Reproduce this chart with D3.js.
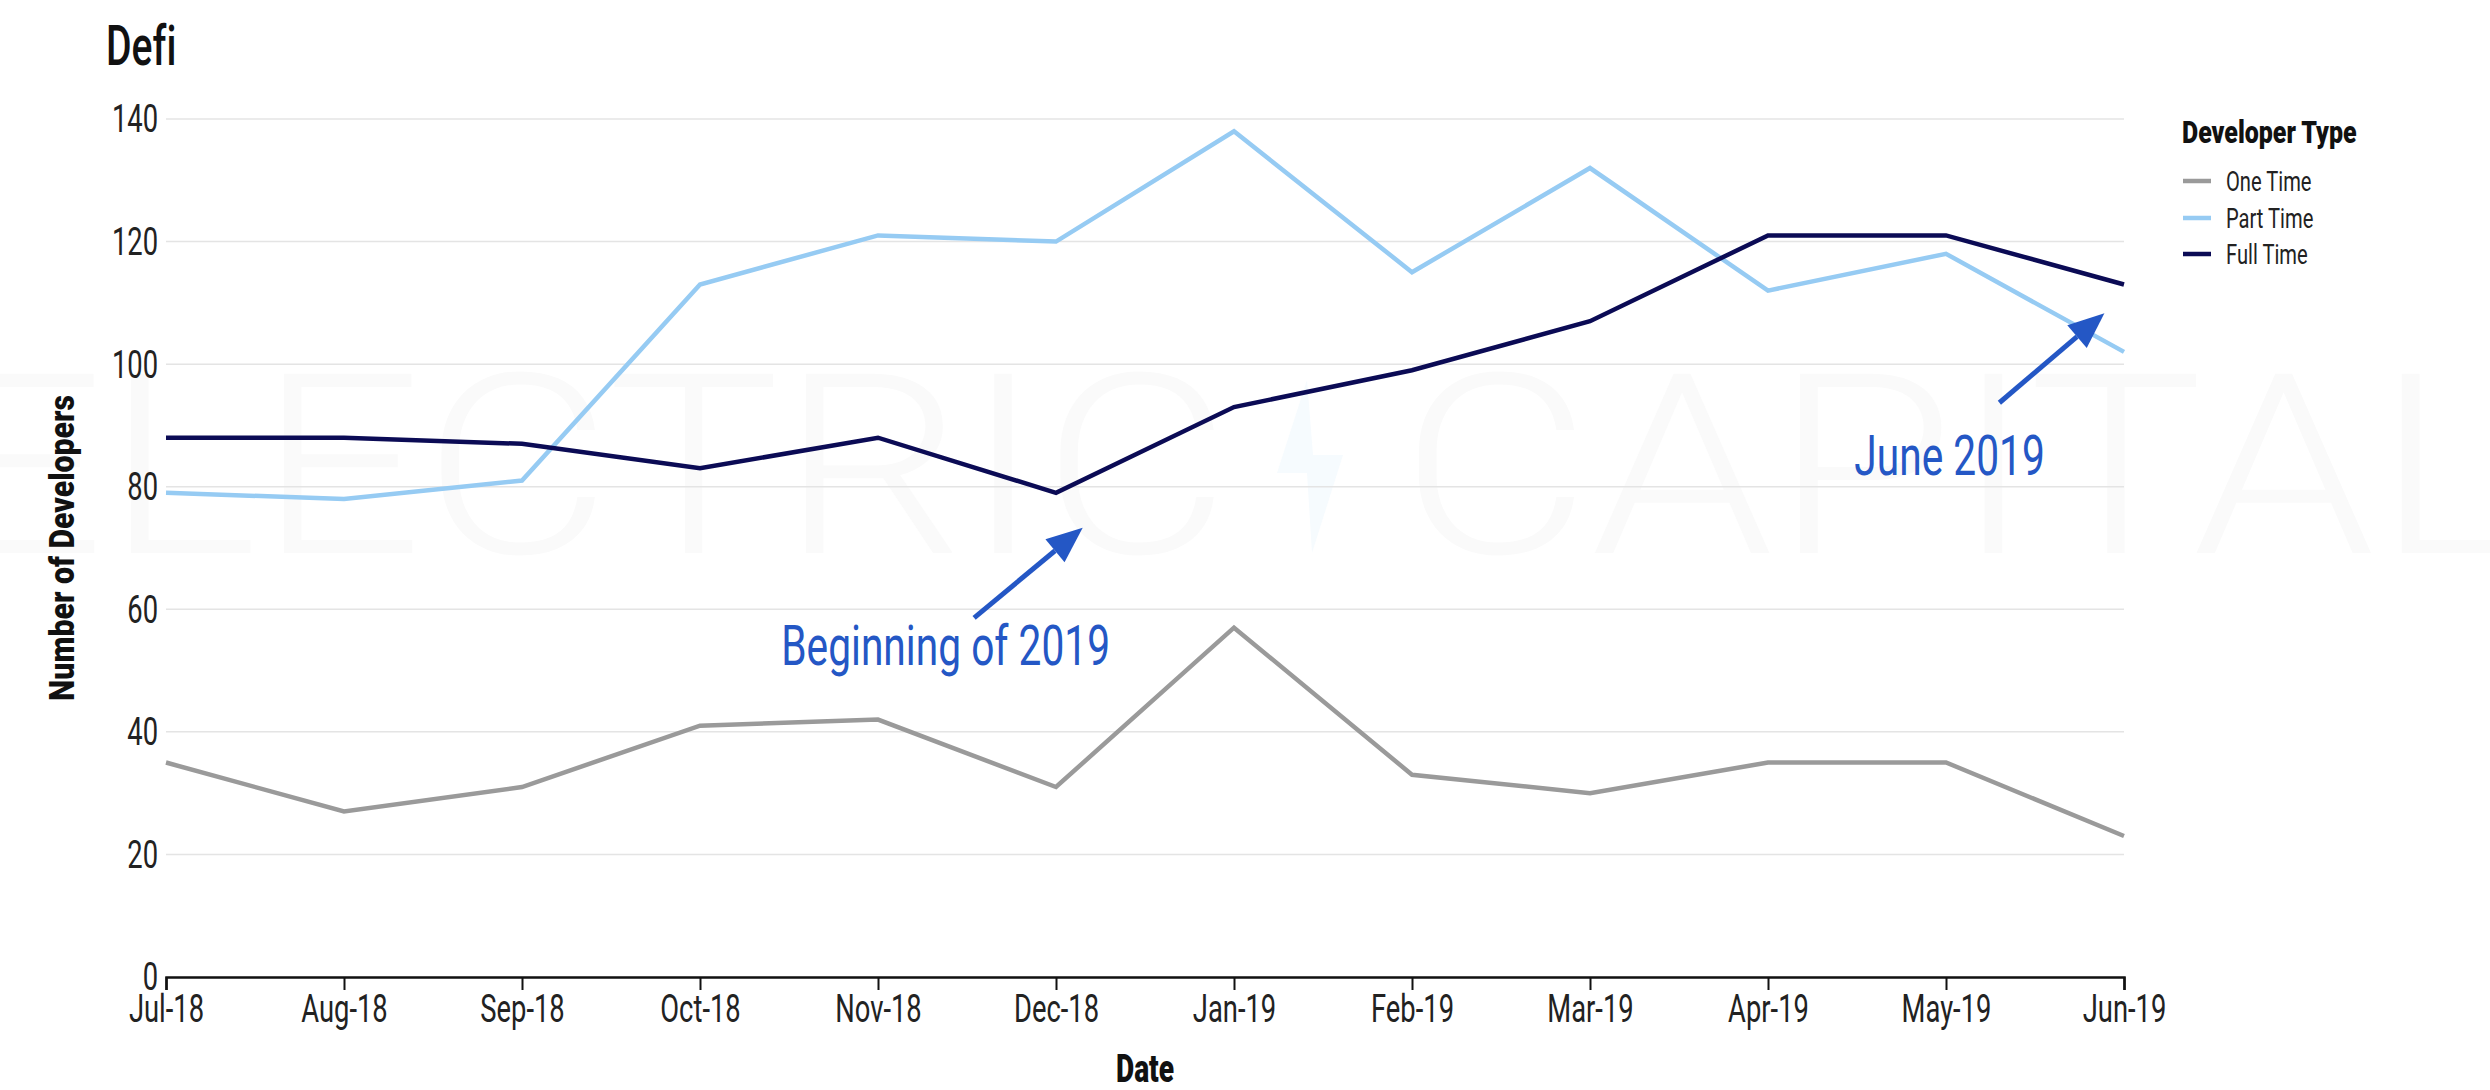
<!DOCTYPE html>
<html><head><meta charset="utf-8">
<script src="https://cdn.jsdelivr.net/npm/d3@7"></script>
<style>
body{margin:0;background:#fff;}
svg{display:block;}
text{font-family:Roboto,"DejaVu Sans",sans-serif;font-variant-ligatures:none;}
</style>
</head><body>
<svg id="chart" width="2490" height="1090"></svg>
<script>
// ---- data ----
const months = ["Jul-18","Aug-18","Sep-18","Oct-18","Nov-18","Dec-18","Jan-19","Feb-19","Mar-19","Apr-19","May-19","Jun-19"];
const oneTime  = [35,27,31,41,42,31,57,33,30,35,35,23];
const partTime = [79,78,81,113,121,120,138,115,132,112,118,102];
const fullTime = [88,88,87,83,88,79,93,99,107,121,121,113];
const seriesNames = ["One Time","Part Time","Full Time"];
const yTicks = [0,20,40,60,80,100,120,140];
const titleText = "Defi";
const legendTitle = "Developer Type";
const xTitle = "Date";
const yTitle = "Number of Developers";
// annotations in data space (month index, developers)
const annLabels = ["Beginning of 2019","June 2019"];
const annText   = [[4.38,50.9],[10.02,81.9]];
const annTail   = [[4.54,58.6],[10.30,93.7]];
const annTip    = [[5.15,73.3],[10.89,108.3]];

// ---- layout / style ----
const mLeft=166,mRight=2124,mTop=119,mBottom=977;
const colors=["#9a9a9a","#96cbf3","#0b0b55"];
const annColor="#2457c5";
const SX=0.72;

const svg=d3.select("#chart");
const x=d3.scalePoint().domain(months).range([mLeft,mRight]);
const xi=d3.scaleLinear().domain([0,months.length-1]).range([mLeft,mRight]);
const y=d3.scaleLinear().domain([0,140]).range([mBottom,mTop]);

function put(sel,px,py,sx){
  return sel.attr("transform",`translate(${px},${py}) scale(${sx},1)`);
}

// watermark
const wm=svg.append("g");
wm.append("text").text("ELECTRIC").attr("x",-60).attr("y",553)
  .attr("font-size",252).attr("font-weight",300).attr("fill","#fafafa")
  .attr("textLength",1290).attr("lengthAdjust","spacingAndGlyphs");
wm.append("text").text("CAPITAL").attr("x",1400).attr("y",553)
  .attr("font-size",252).attr("font-weight",300).attr("fill","#fafafa")
  .attr("textLength",1130).attr("lengthAdjust","spacingAndGlyphs");
wm.append("path").attr("fill","#f6fbfe")
  .attr("d","M1307,380 L1277,473 L1307,473 L1312,553 L1343,455 L1313,455 Z");

// gridlines
svg.append("g").selectAll("line").data(yTicks.filter(d=>d>0)).join("line")
  .attr("x1",mLeft).attr("x2",mRight).attr("y1",d=>y(d)).attr("y2",d=>y(d))
  .attr("stroke","#e4e4e4").attr("stroke-width",1.5);

// y axis
const ya=svg.append("g").attr("transform",`translate(${mLeft},0)`)
  .call(d3.axisLeft(y).tickValues(yTicks).tickSize(0).tickPadding(0));
ya.select(".domain").remove();
ya.selectAll("text").attr("font-size",38).attr("fill","#222")
  .attr("font-family","Roboto").attr("x",-8/SX).attr("dy","0.34em")
  .attr("transform",`scale(${SX},1)`);

// x axis
const xa=svg.append("g").attr("transform",`translate(0,${mBottom})`)
  .call(d3.axisBottom(x).tickSize(13).tickSizeOuter(13).tickPadding(5));
xa.select(".domain").attr("stroke","#111").attr("stroke-width",2.5);
xa.selectAll(".tick line").attr("stroke","#111").attr("stroke-width",2);
xa.selectAll("text").attr("font-size",38).attr("fill","#222")
  .attr("font-family","Roboto").attr("transform",`scale(${SX},1)`);

// lines
const series=[oneTime,partTime,fullTime];
const line=d3.line().x((d,i)=>x(months[i])).y(d=>y(d));
svg.append("g").selectAll("path").data(series).join("path")
  .attr("d",line).attr("fill","none")
  .attr("stroke",(d,i)=>colors[i]).attr("stroke-width",4.5)
  .attr("stroke-linejoin","miter");

// title
put(svg.append("text").text(titleText).attr("font-size",56).attr("font-weight",500).attr("fill","#111"),106,65,0.7);

// axis titles
put(svg.append("text").text(xTitle).attr("font-size",38).attr("font-weight",900)
  .attr("text-anchor","middle").attr("fill","#111"),(mLeft+mRight)/2,1082,0.74);
svg.append("text").text(yTitle).attr("font-size",36).attr("font-weight",900)
  .attr("text-anchor","middle").attr("fill","#111")
  .attr("transform",`translate(74,${(mTop+mBottom)/2}) rotate(-90) scale(0.84,1)`);

// legend
const lg=svg.append("g");
put(lg.append("text").text(legendTitle).attr("font-size",32).attr("font-weight",900).attr("fill","#111"),2182,143,0.78);
const legY=[181,218,254];
seriesNames.forEach((n,i)=>{
  lg.append("line").attr("x1",2183).attr("x2",2211).attr("y1",legY[i]).attr("y2",legY[i])
    .attr("stroke",colors[i]).attr("stroke-width",4.5);
  put(lg.append("text").text(n).attr("font-size",28).attr("fill","#222").attr("dy","0.35em"),2226,legY[i],SX);
});

// annotations
const ag=svg.append("g");
annLabels.forEach((lab,i)=>{
  put(ag.append("text").text(lab).attr("font-size",55).attr("fill",annColor).attr("text-anchor","middle"),
      xi(annText[i][0]),y(annText[i][1]),0.74);
  const x1=xi(annTail[i][0]),y1=y(annTail[i][1]),x2=xi(annTip[i][0]),y2=y(annTip[i][1]);
  const ang=Math.atan2(y2-y1,x2-x1), L=36, Wd=15;
  const bx=x2-L*Math.cos(ang), by=y2-L*Math.sin(ang);
  ag.append("line").attr("x1",x1).attr("y1",y1).attr("x2",bx).attr("y2",by)
    .attr("stroke",annColor).attr("stroke-width",5);
  const px=-Math.sin(ang), py=Math.cos(ang);
  ag.append("path").attr("fill",annColor)
    .attr("d",`M${x2},${y2} L${bx+px*Wd},${by+py*Wd} L${bx-px*Wd},${by-py*Wd} Z`);
});
</script>
</body></html>
